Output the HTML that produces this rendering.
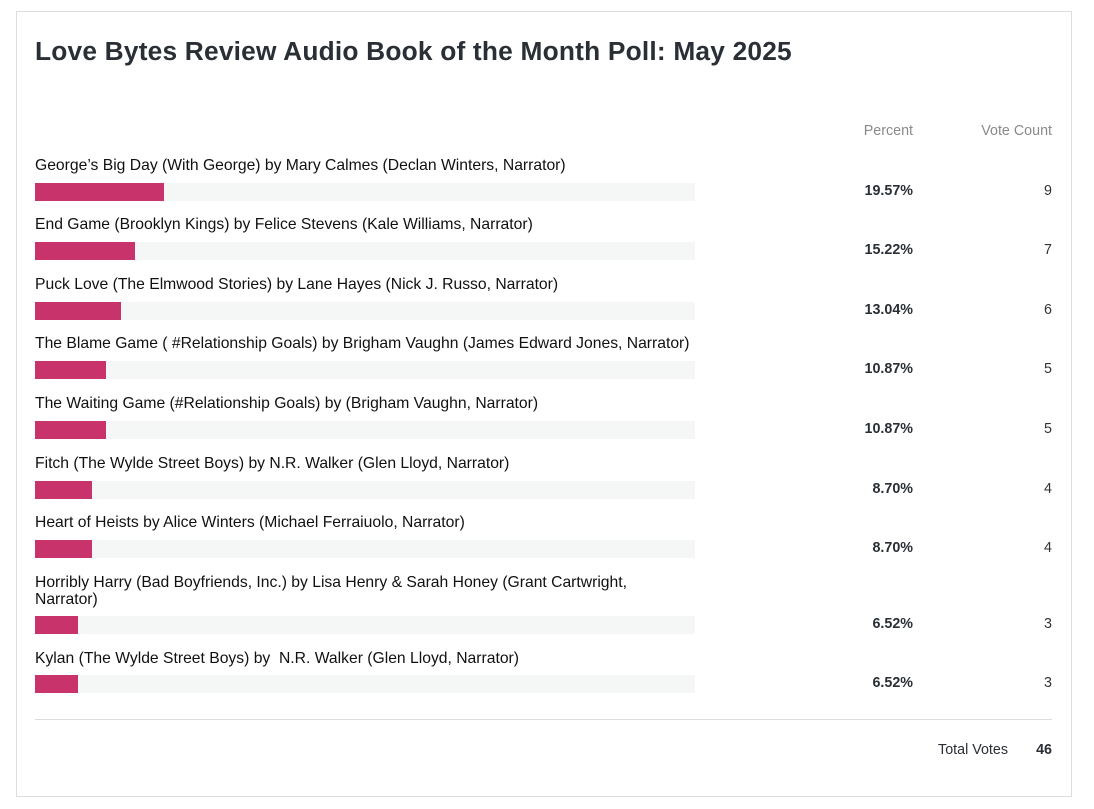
<!DOCTYPE html>
<html><head><meta charset="utf-8"><style>
body{margin:0;width:1094px;height:809px;background:#fff;position:relative;font-family:"Liberation Sans",sans-serif;color:#111;}
.box{position:absolute;left:16px;top:11px;width:1054px;height:784px;border:1px solid #ddd;}
h1{position:absolute;left:35px;top:36px;margin:0;font-size:26.3px;font-weight:bold;color:#2a2f35;letter-spacing:0.2px;}
.h{position:absolute;top:123px;font-size:14.3px;color:#8a8a8a;text-align:right;}
.lab{position:absolute;left:35px;font-size:15.7px;line-height:17px;width:680px;color:#111;}
.tr{position:absolute;left:35px;width:660px;height:18px;background:#f5f6f6;}
.bar{height:18px;background:#c8336b;}
.pc{position:absolute;right:181px;font-size:14.3px;font-weight:bold;color:#2a2f35;}
.vc{position:absolute;right:42px;font-size:14.3px;color:#333;}
.sep{position:absolute;left:35px;top:719px;width:1017px;height:1px;background:#ddd;}
</style></head><body>
<div class="box"></div>
<h1>Love Bytes Review Audio Book of the Month Poll: May 2025</h1>
<div class="h" style="right:181px">Percent</div>
<div class="h" style="right:42px">Vote Count</div>

<div class="lab" style="top:157px">George’s Big Day (With George) by Mary Calmes (Declan Winters, Narrator)</div>
<div class="tr" style="top:183px"><div class="bar" style="width:129px"></div></div>
<div class="pc" style="top:183px">19.57%</div><div class="vc" style="top:183px">9</div>

<div class="lab" style="top:216px">End Game (Brooklyn Kings) by Felice Stevens (Kale Williams, Narrator)</div>
<div class="tr" style="top:242px"><div class="bar" style="width:100px"></div></div>
<div class="pc" style="top:242px">15.22%</div><div class="vc" style="top:242px">7</div>

<div class="lab" style="top:276px">Puck Love (The Elmwood Stories) by Lane Hayes (Nick J. Russo, Narrator)</div>
<div class="tr" style="top:302px"><div class="bar" style="width:86px"></div></div>
<div class="pc" style="top:302px">13.04%</div><div class="vc" style="top:302px">6</div>

<div class="lab" style="top:335px;width:700px">The Blame Game ( #Relationship Goals) by Brigham Vaughn (James Edward Jones, Narrator)</div>
<div class="tr" style="top:361px"><div class="bar" style="width:71px"></div></div>
<div class="pc" style="top:361px">10.87%</div><div class="vc" style="top:361px">5</div>

<div class="lab" style="top:395px">The Waiting Game (#Relationship Goals) by (Brigham Vaughn, Narrator)</div>
<div class="tr" style="top:421px"><div class="bar" style="width:71px"></div></div>
<div class="pc" style="top:421px">10.87%</div><div class="vc" style="top:421px">5</div>

<div class="lab" style="top:455px">Fitch (The Wylde Street Boys) by N.R. Walker (Glen Lloyd, Narrator)</div>
<div class="tr" style="top:481px"><div class="bar" style="width:57px"></div></div>
<div class="pc" style="top:481px">8.70%</div><div class="vc" style="top:481px">4</div>

<div class="lab" style="top:514px">Heart of Heists by Alice Winters (Michael Ferraiuolo, Narrator)</div>
<div class="tr" style="top:540px"><div class="bar" style="width:57px"></div></div>
<div class="pc" style="top:540px">8.70%</div><div class="vc" style="top:540px">4</div>

<div class="lab" style="top:574px;width:640px">Horribly Harry (Bad Boyfriends, Inc.) by Lisa Henry &amp; Sarah Honey (Grant Cartwright, Narrator)</div>
<div class="tr" style="top:616px"><div class="bar" style="width:43px"></div></div>
<div class="pc" style="top:616px">6.52%</div><div class="vc" style="top:616px">3</div>

<div class="lab" style="top:650px">Kylan (The Wylde Street Boys) by &nbsp;N.R. Walker (Glen Lloyd, Narrator)</div>
<div class="tr" style="top:675px"><div class="bar" style="width:43px"></div></div>
<div class="pc" style="top:675px">6.52%</div><div class="vc" style="top:675px">3</div>

<div class="sep"></div>
<div style="position:absolute;right:86px;top:742px;font-size:14.3px;color:#2a2f35">Total Votes</div>
<div style="position:absolute;right:42px;top:742px;font-size:14.3px;font-weight:bold;color:#2a2f35">46</div>
</body></html>
